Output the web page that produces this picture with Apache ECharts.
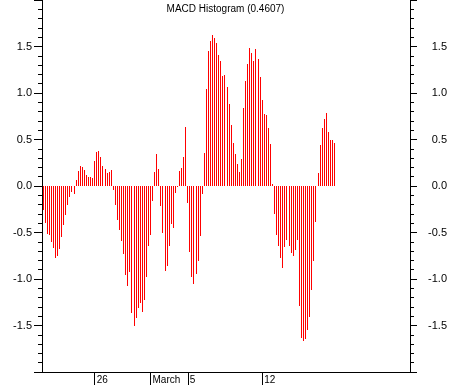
<!DOCTYPE html>
<html>
<head>
<meta charset="utf-8">
<script src="https://cdn.jsdelivr.net/npm/echarts@6/dist/echarts.min.js"></script>
<style>
  html, body { margin: 0; padding: 0; background: #fff; }
  #chart { width: 451px; height: 385px; }
</style>
</head>
<body>
<div id="chart"></div>
<script>
// ---- data ----
const slotCount = 178;                       // number of x slots on the axis
const labelIndex = [25, 52, 70, 106];        // slots that carry a date label
const labelText = ['26', 'March', '5', '12'];
const histogram = [
  -0.262, -0.401, -0.518, -0.532, -0.603, -0.667, -0.773, -0.748, -0.677, -0.553,
  -0.422, -0.309, -0.199, -0.113, -0.064, -0.082, 0.064, 0.160, 0.216, 0.206,
  0.170, 0.121, 0.099, 0.096, 0.085, 0.266, 0.362, 0.372, 0.309, 0.216,
  0.184, 0.138, 0.149, 0.170, -0.039, -0.209, -0.369, -0.475, -0.596, -0.730,
  -0.954, -1.071, -0.926, -1.369, -1.507, -1.422, -1.316, -1.262, -1.358, -1.230,
  -0.975, -0.645, -0.528, -0.156, 0.149, 0.340, 0.181, -0.220, -0.507, -0.911,
  -0.858, -0.645, -0.411, -0.447, -0.078, -0.014, 0.160, 0.191, 0.309, 0.638,
  -0.188, -0.706, -0.975, -1.050, -0.943, -0.805, -0.539, -0.082, 0.351, 1.043,
  1.447, 1.564, 1.628, 1.596, 1.543, 1.404, 1.340, 1.181, 1.191, 1.064,
  0.883, 0.660, 0.457, 0.340, 0.234, 0.149, 0.287, 0.840, 1.128, 1.309,
  1.479, 1.426, 1.340, 1.468, 1.362, 1.170, 0.926, 0.777, 0.766, 0.628,
  0.447, 0.021, -0.305, -0.528, -0.645, -0.773, -0.879, -0.656, -0.582, -0.645,
  -0.720, -0.752, -0.688, -0.582, -1.294, -1.634, -1.667, -1.645, -1.550, -1.411,
  -1.113, -0.805, -0.390, 0.138, 0.440, 0.628, 0.723, 0.787, 0.585, 0.500,
  0.500, 0.4607
];
const titleText = 'MACD Histogram (0.4607)';

// ---- build ----
const FONT = '"Liberation Sans", Arial, sans-serif';
const categories = [];
for (let i = 0; i < slotCount; i++) categories.push(String(i));
const seriesData = histogram.map((v, i) => [i, v]);
const isLabelled = (i) => labelIndex.indexOf(i) >= 0;

function renderBar(params, api) {
  const i = api.value(0), v = api.value(1);
  const top = api.coord([i, v]);
  const base = api.coord([i, 0]);
  const x = Math.floor(top[0]);
  const y0 = Math.round(base[1]);
  const y1 = Math.round(top[1]);
  return {
    type: 'rect',
    shape: { x: x, y: Math.min(y0, y1), width: 1, height: Math.max(1, Math.abs(y1 - y0)) },
    style: { fill: '#ff0000' }
  };
}

function yAxisCfg(pos) {
  const left = pos === 'left';
  return {
    type: 'value', position: pos, min: -2, max: 2, interval: 0.5,
    axisLine: { show: true, onZero: false, lineStyle: { color: '#000', width: 1 } },
    axisTick: { show: true, length: left ? 8 : 7, lineStyle: { color: '#000' } },
    minorTick: { show: true, splitNumber: 5, length: 4, lineStyle: { color: '#000' } },
    splitLine: { show: false },
    axisLabel: {
      show: true, showMaxLabel: false, showMinLabel: false,
      formatter: (v) => v.toFixed(1),
      color: '#000', fontSize: 11, fontFamily: FONT,
      margin: left ? 10 : 37, align: 'right'
    }
  };
}

const chart = echarts.init(document.getElementById('chart'), null, { renderer: 'canvas' });
chart.setOption({
  animation: false,
  backgroundColor: '#fff',
  title: {
    text: titleText, left: 'center', top: 4, padding: 0,
    textStyle: { fontSize: 10, fontWeight: 'normal', color: '#000', fontFamily: FONT }
  },
  grid: { left: 42, right: 41, top: -4, bottom: 13, containLabel: false },
  xAxis: {
    type: 'category', data: categories, boundaryGap: true, position: 'bottom',
    axisLine: { show: true, onZero: false, lineStyle: { color: '#000' } },
    axisTick: { show: true, alignWithLabel: true, interval: (i) => isLabelled(i), length: 13, lineStyle: { color: '#000' } },
    axisLabel: {
      interval: (i) => isLabelled(i),
      formatter: (v, i) => labelText[labelIndex.indexOf(i)] || '',
      align: 'left', margin: 3, padding: [0, 0, 0, 2],
      color: '#000', fontSize: 10, fontFamily: FONT
    },
    splitLine: { show: false }
  },
  yAxis: [yAxisCfg('left'), yAxisCfg('right')],
  series: [{
    type: 'custom', name: 'MACD Histogram', xAxisIndex: 0, yAxisIndex: 0,
    renderItem: renderBar, data: seriesData, encode: { x: 0, y: 1 }
  }]
});
</script>
</body>
</html>
